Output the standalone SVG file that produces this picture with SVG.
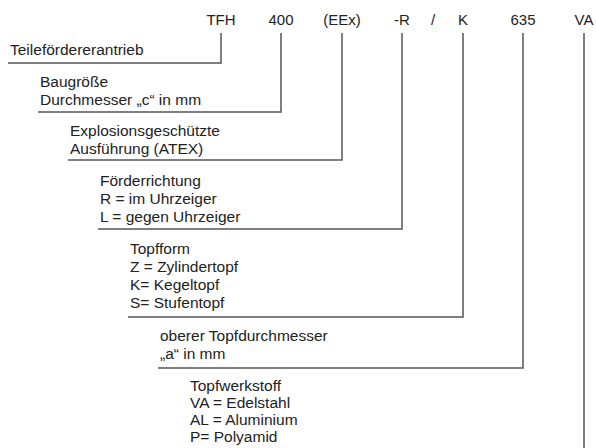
<svg xmlns="http://www.w3.org/2000/svg" width="596" height="448" viewBox="0 0 596 448">
<style>
text{font-family:"Liberation Sans",Arial,sans-serif;font-size:15.5px;fill:#222}
.h{text-anchor:middle;font-size:15px}
.c{fill:none;stroke:#555;stroke-width:1.5}
</style>
<rect width="596" height="448" fill="#fff"/>
<g id="header">
<text class="h" x="221" y="25">TFH</text>
<text class="h" x="281" y="25">400</text>
<text class="h" x="342" y="25">(EEx)</text>
<text class="h" x="402" y="25">-R</text>
<text class="h" x="433" y="25">/</text>
<text class="h" x="463" y="25">K</text>
<text class="h" x="523" y="25">635</text>
<text class="h" x="584" y="25">VA</text>
</g>
<g id="connectors">
<polyline class="c" points="221,33 221,63 8,63"/>
<polyline class="c" points="281,33 281,112 38,112"/>
<polyline class="c" points="342,33 342,160 68,160"/>
<polyline class="c" points="402,33 402,229 98,229"/>
<polyline class="c" points="463,33 463,317 128,317"/>
<polyline class="c" points="523,33 523,368 158,368"/>
<polyline class="c" points="584,33 584,448"/>
</g>
<g id="n1"><text x="10" y="55">Teilefördererantrieb</text></g>
<g id="n2"><text x="40" y="87">Baugröße</text><text x="40" y="105">Durchmesser „c“ in mm</text></g>
<g id="n3"><text x="70" y="136">Explosionsgeschützte</text><text x="70" y="154">Ausführung (ATEX)</text></g>
<g id="n4"><text x="100" y="186">Förderrichtung</text><text x="100" y="204">R = im Uhrzeiger</text><text x="100" y="222">L = gegen Uhrzeiger</text></g>
<g id="n5"><text x="130" y="254">Topfform</text><text x="130" y="272">Z = Zylindertopf</text><text x="130" y="290">K= Kegeltopf</text><text x="130" y="308">S= Stufentopf</text></g>
<g id="n6"><text x="160" y="341">oberer Topfdurchmesser</text><text x="160" y="359">„a“ in mm</text></g>
<g id="n7"><text x="190" y="391">Topfwerkstoff</text><text x="190" y="408">VA = Edelstahl</text><text x="190" y="425">AL = Aluminium</text><text x="190" y="442">P= Polyamid</text></g>
</svg>
